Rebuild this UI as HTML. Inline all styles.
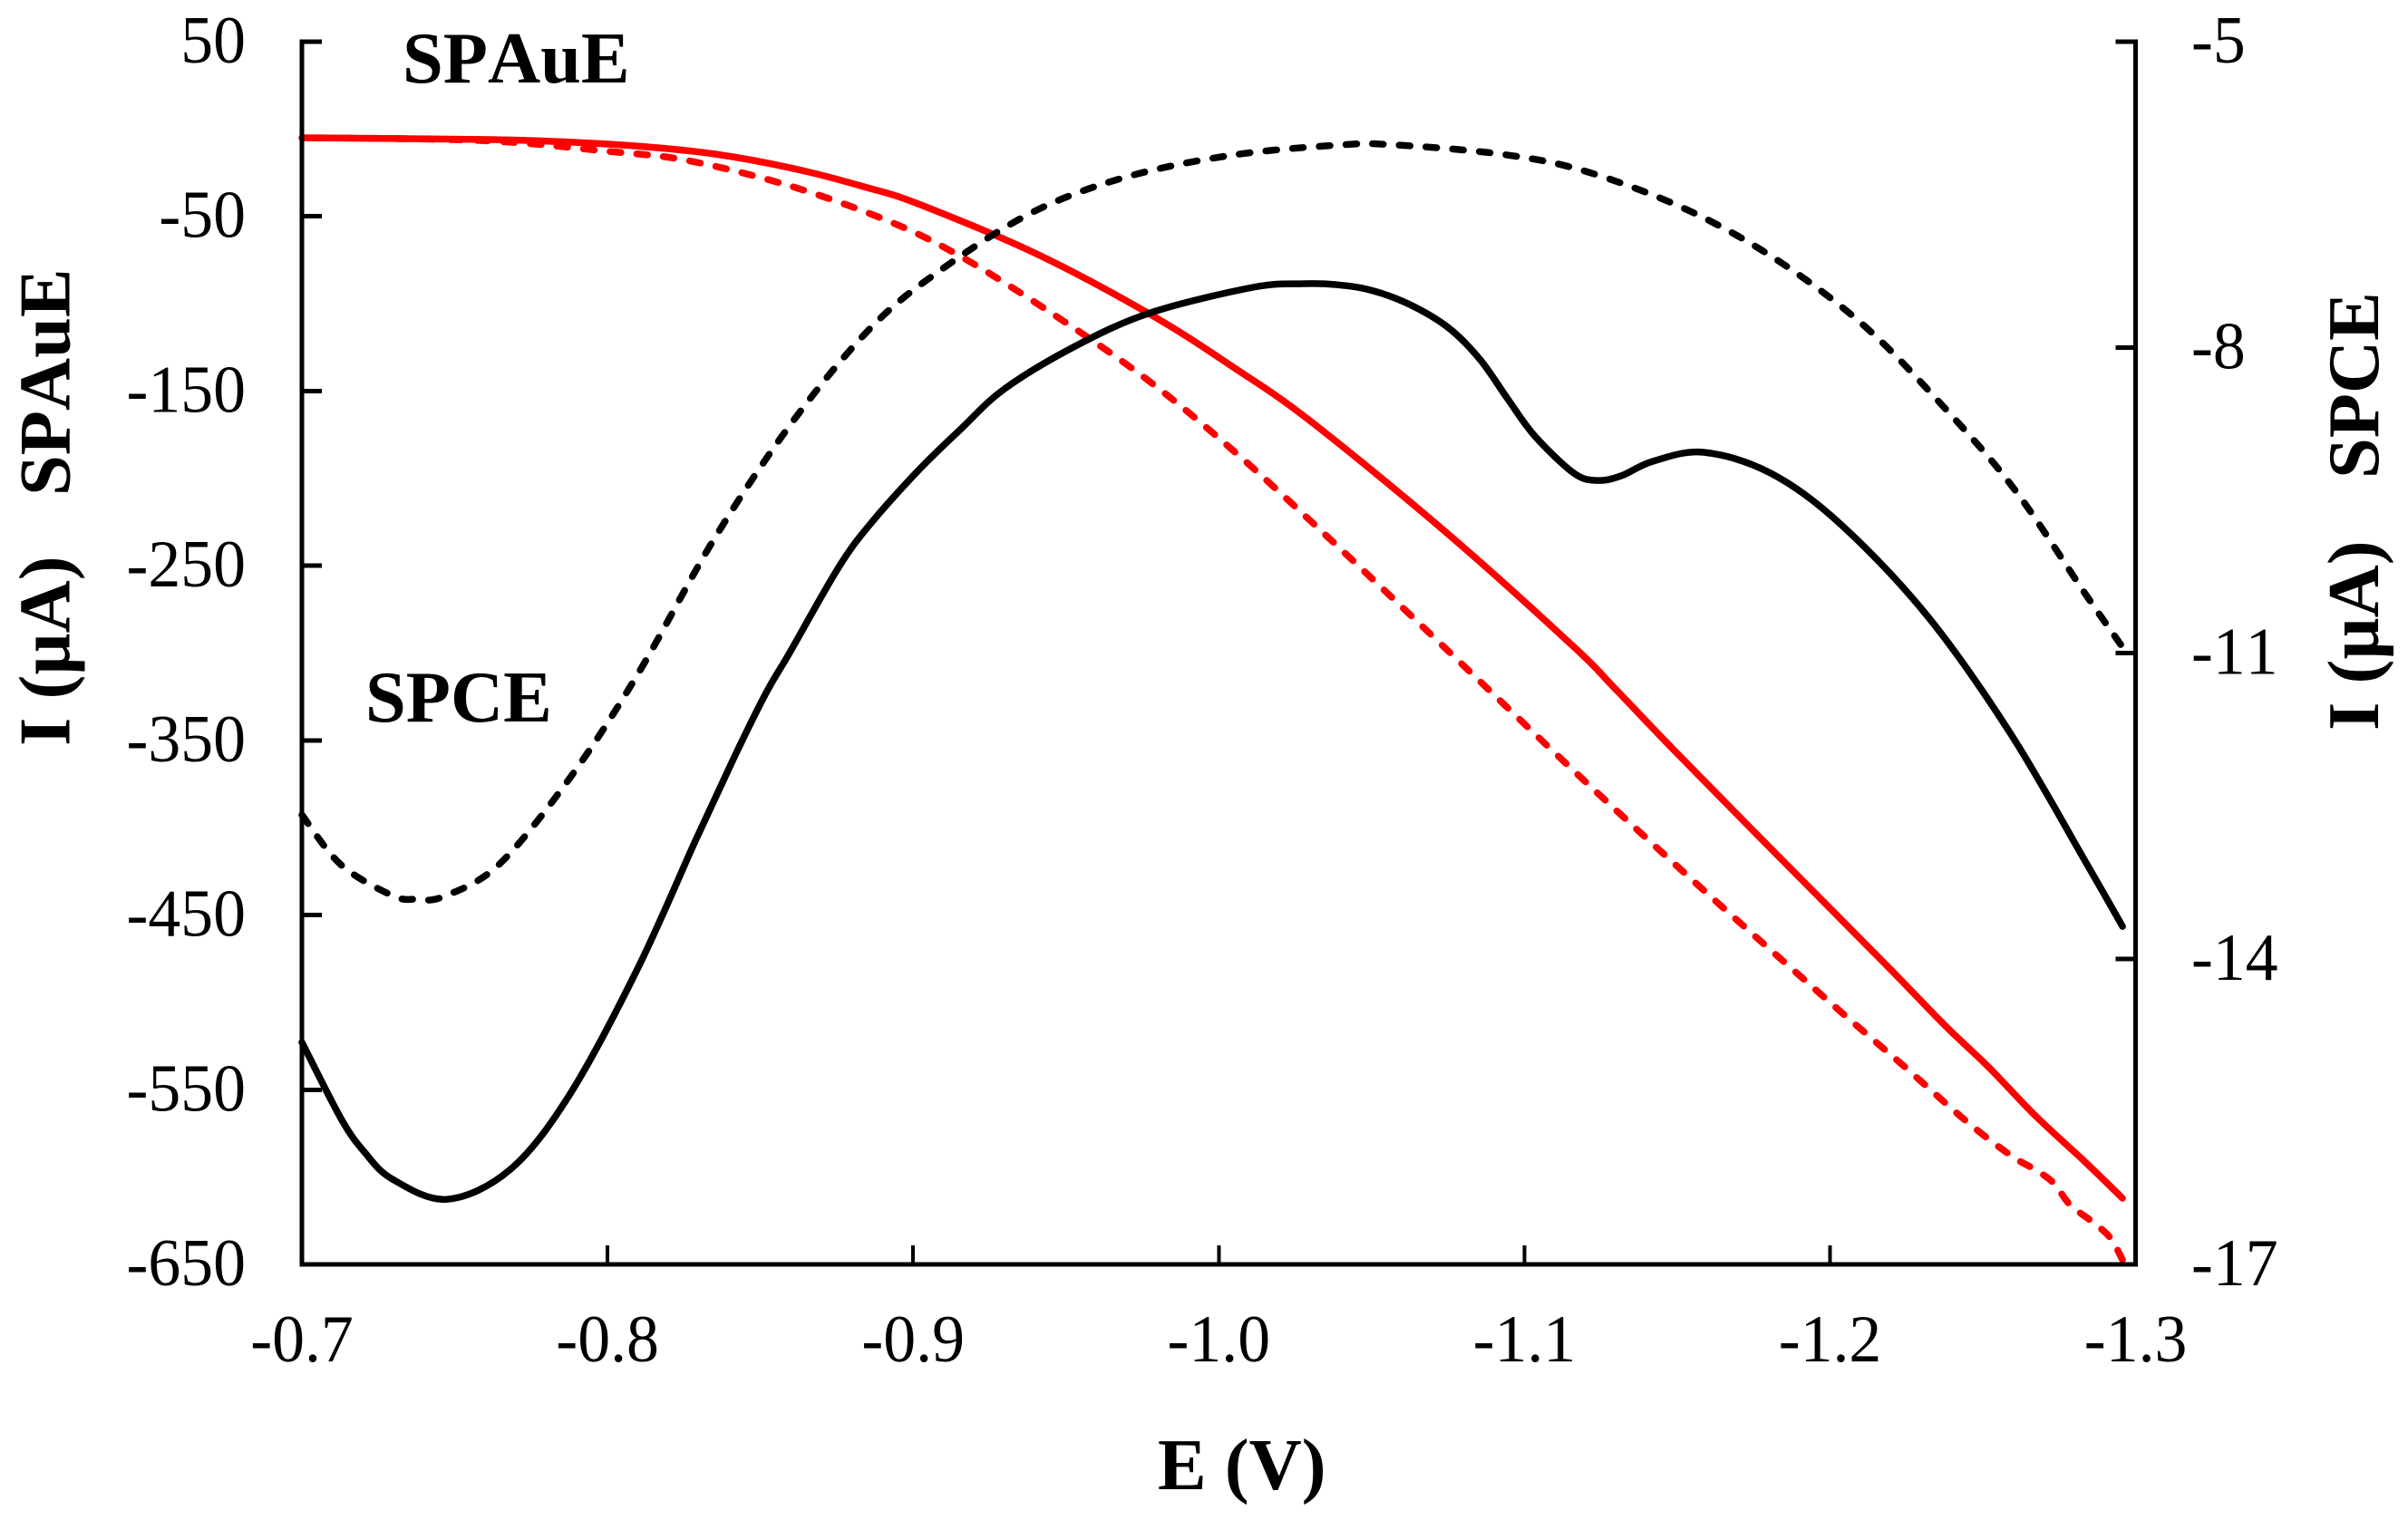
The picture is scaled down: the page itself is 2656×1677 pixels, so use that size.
<!DOCTYPE html>
<html lang="en">
<head>
<meta charset="utf-8">
<title>Current versus potential for SPAuE and SPCE</title>
<style>
html,body{margin:0;padding:0;background:#fff;width:2656px;height:1677px;overflow:hidden}
svg{display:block;font-family:"Liberation Serif",serif;font-kerning:none}
.tick{font-size:74px;fill:#000}
.title{font-size:80.5px;font-weight:bold;fill:#000;white-space:pre}
</style>
</head>
<body>
<svg id="chart" xmlns="http://www.w3.org/2000/svg" width="2656" height="1677" viewBox="0 0 2656 1677">
  <rect x="0" y="0" width="2656" height="1677" fill="#fff"/>
  <g id="marks" fill="none" stroke-linecap="round" stroke-linejoin="round"></g>
  <g id="axes" stroke="#000" fill="none" shape-rendering="crispEdges"></g>
  <g id="labels"></g>
  <text class="title" x="444" y="91">SPAuE</text>
  <text class="title" x="403" y="796">SPCE</text>
  <text class="title" x="1277" y="1643">E (V)</text>
  <text class="title" transform="translate(76.5 823) rotate(-90)"><tspan>I (µA)</tspan><tspan x="276">SPAuE</tspan></text>
  <text class="title" transform="translate(2623 806) rotate(-90)"><tspan>I (µA)</tspan><tspan x="278">SPCE</tspan></text>
</svg>
<script>
const xTicks = [-0.7, -0.8, -0.9, -1.0, -1.1, -1.2, -1.3];
const leftTicks = [50, -50, -150, -250, -350, -450, -550, -650];
const rightTicks = [-5, -8, -11, -14, -17];

const spceSolidE = [-0.7,-0.7128,-0.7205,-0.7297,-0.7475,-0.7682,-0.7875,-0.8095,-0.8287,-0.8415,-0.8519,-0.8596,-0.8756,-0.8860,-0.9017,-0.9160,-0.9299,-0.9530,-0.9777,-1.0112,-1.0278,-1.0382,-1.0497,-1.0625,-1.0753,-1.0856,-1.0945,-1.1034,-1.1162,-1.1239,-1.1316,-1.1420,-1.1586,-1.1806,-1.2037,-1.2322,-1.2592,-1.2835,-1.2957];
const spceSolidI = [-14.82,-15.569,-15.899,-16.165,-16.361,-16.068,-15.338,-14.119,-12.847,-12.020,-11.390,-10.996,-10.160,-9.733,-9.208,-8.790,-8.407,-7.989,-7.660,-7.411,-7.375,-7.384,-7.438,-7.580,-7.811,-8.123,-8.505,-8.870,-9.235,-9.306,-9.262,-9.119,-9.030,-9.235,-9.742,-10.649,-11.797,-13.043,-13.683];

const spceDashedE = [-0.7,-0.7128,-0.7297,-0.7374,-0.7463,-0.7644,-0.7875,-0.8095,-0.8350,-0.8608,-0.8866,-0.9094,-0.9391,-0.9699,-1.0047,-1.0394,-1.0560,-1.0922,-1.1200,-1.1536,-1.1832,-1.2114,-1.2372,-1.2604,-1.2835,-1.2951];
const spceDashedI = [-12.589,-13.078,-13.381,-13.416,-13.390,-13.078,-12.233,-11.228,-9.875,-8.719,-7.794,-7.233,-6.673,-6.326,-6.112,-6.014,-6.010,-6.103,-6.272,-6.655,-7.153,-7.794,-8.585,-9.395,-10.418,-10.916];

const spaueSolidE = [-0.7,-0.7590,-0.7825,-0.8095,-0.8350,-0.8608,-0.8839,-0.9017,-0.9403,-0.9777,-1.0047,-1.0305,-1.0753,-1.1162,-1.1292,-1.1485,-1.1832,-1.2179,-1.2372,-1.2521,-1.2669,-1.2835,-1.2957];
const spaueSolidI = [-5.0,-6.0,-7.1,-9.7,-14.3,-22.6,-33.0,-42.9,-71.4,-106.2,-136.3,-167.9,-232.3,-296.5,-319.5,-354.8,-416.5,-477.7,-512.5,-537.4,-564.4,-591.4,-612.1];

const spaueDashedE = [-0.7,-0.7590,-0.8003,-0.8261,-0.8596,-0.8928,-0.9171,-0.9468,-0.9762,-1.0047,-1.0355,-1.0741,-1.1189,-1.1586,-1.1987,-1.2245,-1.2449,-1.2592,-1.2669,-1.2731,-1.2785,-1.2862,-1.2918,-1.2957];
const spaueDashedI = [-5.0,-6.6,-12.8,-18.0,-32.5,-53.3,-74.5,-107.2,-143.0,-184.0,-233.3,-297.2,-371.9,-435.7,-498.0,-537.0,-568.5,-587.7,-595.5,-603.3,-615.8,-626.1,-635.0,-647.4];

const NS = 'http://www.w3.org/2000/svg';
const plot = { left: 333, right: 2355.6, top: 46, bottom: 1395 };
const xDomain = [-0.7, -1.3];
const leftDomain = [50, -650];
const rightDomain = [-5, -17];
const dashOn = 12;
const dashOff = 17.5;

function xScale(v) {
  return plot.left + (v - xDomain[0]) / (xDomain[1] - xDomain[0]) * (plot.right - plot.left);
}
function yLeft(v) {
  return plot.top + (v - leftDomain[0]) / (leftDomain[1] - leftDomain[0]) * (plot.bottom - plot.top);
}
function yRight(v) {
  return plot.top + (v - rightDomain[0]) / (rightDomain[1] - rightDomain[0]) * (plot.bottom - plot.top);
}
function smoothPath(es, is, yFn) {
  const p = es.map(function (e, i) { return [xScale(e), yFn(is[i])]; });
  let d = 'M' + p[0][0].toFixed(1) + ' ' + p[0][1].toFixed(1);
  for (let i = 0; i < p.length - 1; i++) {
    const a = p[Math.max(i - 1, 0)], b = p[i], c = p[i + 1], e = p[Math.min(i + 2, p.length - 1)];
    const c1x = b[0] + (c[0] - a[0]) / 6, c1y = b[1] + (c[1] - a[1]) / 6;
    const c2x = c[0] - (e[0] - b[0]) / 6, c2y = c[1] - (e[1] - b[1]) / 6;
    d += 'C' + c1x.toFixed(1) + ' ' + c1y.toFixed(1) + ' ' + c2x.toFixed(1) + ' ' + c2y.toFixed(1) + ' ' + c[0].toFixed(1) + ' ' + c[1].toFixed(1);
  }
  return d;
}
function makeLine(parent, x1, y1, x2, y2, width) {
  const el = document.createElementNS(NS, 'line');
  el.setAttribute('x1', x1);
  el.setAttribute('y1', y1);
  el.setAttribute('x2', x2);
  el.setAttribute('y2', y2);
  el.setAttribute('stroke-width', width);
  parent.appendChild(el);
  return el;
}
function makeText(parent, x, y, anchor, str) {
  const el = document.createElementNS(NS, 'text');
  el.setAttribute('class', 'tick');
  el.setAttribute('transform', 'translate(' + x + ' ' + y + ') scale(0.97 1)');
  el.setAttribute('text-anchor', anchor);
  el.textContent = str;
  parent.appendChild(el);
  return el;
}
function makeSeries(d, color, dashed) {
  const el = document.createElementNS(NS, 'path');
  el.setAttribute('d', d);
  el.setAttribute('stroke', color);
  el.setAttribute('stroke-width', '7.5');
  document.getElementById('marks').appendChild(el);
  if (dashed) {
    const period = dashOn + dashOff;
    const len = el.getTotalLength();
    el.setAttribute('stroke-dasharray', dashOn + ' ' + dashOff);
    el.setAttribute('stroke-dashoffset', ((dashOn - (len % period) + period) % period).toFixed(2));
  }
  return el;
}

const axes = document.getElementById('axes');
const labels = document.getElementById('labels');

const leftAxis = makeLine(axes, plot.left, plot.top - 2.5, plot.left, plot.bottom + 2.5, 5);


const rightAxis = makeLine(axes, plot.right, plot.top - 2.5, plot.right, plot.bottom + 2.5, 5);


const bottomAxis = makeLine(axes, plot.left - 2.5, plot.bottom, plot.right + 2.5, plot.bottom, 5);



xTicks.forEach(function (v) {
  const x = xScale(v);
  if (v !== xDomain[0] && v !== xDomain[1]) {
    const t = makeLine(axes, x, plot.bottom - 21, x, plot.bottom, 4);
    
    
  }
  const l = makeText(labels, x, 1502, 'middle', v.toFixed(1));
  
  
});
leftTicks.forEach(function (v) {
  const y = yLeft(v);
  const t = makeLine(axes, plot.left, y, plot.left + 22, y, 5);
  
  
  const l = makeText(labels, 271, y + 23, 'end', String(v));
  
  
});
rightTicks.forEach(function (v) {
  const y = yRight(v);
  const t = makeLine(axes, plot.right - 22, y, plot.right, y, 5);
  
  
  const l = makeText(labels, 2417, y + 23, 'start', String(v));
  
  
});

const redDashed = makeSeries(smoothPath(spaueDashedE, spaueDashedI, yLeft), '#ff0000', true);


const redSolid = makeSeries(smoothPath(spaueSolidE, spaueSolidI, yLeft), '#ff0000', false);


const blackDashed = makeSeries(smoothPath(spceDashedE, spceDashedI, yRight), '#000000', true);


const blackSolid = makeSeries(smoothPath(spceSolidE, spceSolidI, yRight), '#000000', false);


</script>
</body>
</html>
